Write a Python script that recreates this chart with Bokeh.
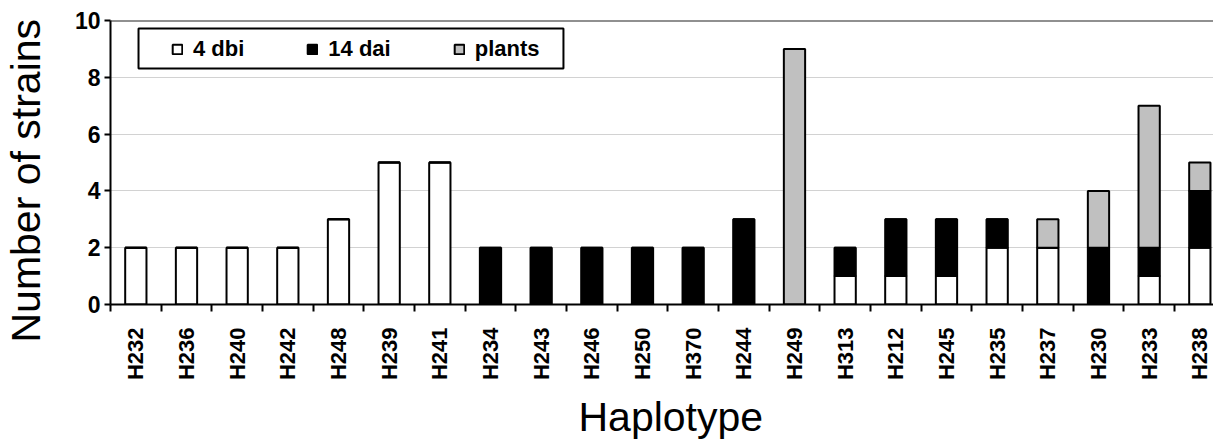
import math
from bokeh.plotting import figure
from bokeh.models import (ColumnDataSource, Range1d, FixedTicker, Legend, LegendItem,
                          BoxAnnotation, Span, Title)
from bokeh.embed import file_html
from bokeh.resources import INLINE

haplotypes = ["H232", "H236", "H240", "H242", "H248", "H239", "H241", "H234", "H243",
              "H246", "H250", "H370", "H244", "H249", "H313", "H212", "H245", "H235",
              "H237", "H230", "H233", "H238"]
dbi4 = [2, 2, 2, 2, 3, 5, 5, 0, 0, 0, 0, 0, 0, 0, 1, 1, 1, 2, 2, 0, 1, 2]
dai14 = [0, 0, 0, 0, 0, 0, 0, 2, 2, 2, 2, 2, 3, 0, 1, 2, 2, 1, 0, 2, 1, 2]
plants = [0, 0, 0, 0, 0, 0, 0, 0, 0, 0, 0, 0, 0, 9, 0, 0, 0, 0, 1, 2, 5, 1]
series_names = ["4 dbi", "14 dai", "plants"]
y_ticks = [0, 2, 4, 6, 8, 10]
x_title = "Haplotype"
y_title = "Number of strains"

n = len(haplotypes)
centers = [i + 0.5 for i in range(n)]
source = ColumnDataSource(dict(x=centers, dbi4=dbi4, dai14=dai14, plants=plants))

FONT = "Liberation Sans"

p = figure(width=1213, height=440, output_backend="svg", toolbar_location=None,
           x_range=Range1d(0, 21.77), y_range=Range1d(0, 10),
           min_border_left=110, min_border_right=0, min_border_top=20,
           min_border_bottom=136)
p.outline_line_color = None
p.background_fill_color = "white"

renderers = p.vbar_stack(["dbi4", "dai14", "plants"], x="x", width=0.42, source=source,
                         fill_color=["white", "black", "#c0c0c0"],
                         line_color="black", line_width=2)

# top border line at y = 10
p.add_layout(Span(location=10, dimension="width", line_color="#222222", line_width=2))

# grid
p.xgrid.grid_line_color = None
p.ygrid.grid_line_color = "#d2d2d2"
p.ygrid.grid_line_width = 1
p.ygrid.ticker = FixedTicker(ticks=y_ticks[1:-1])

# y axis
p.yaxis.ticker = FixedTicker(ticks=y_ticks)
p.yaxis.axis_line_width = 2
p.yaxis.axis_line_color = "black"
p.yaxis.major_tick_line_width = 2
p.yaxis.major_tick_out = 6
p.yaxis.major_tick_in = 0
p.yaxis.minor_tick_line_color = None
p.yaxis.major_label_text_font = FONT
p.yaxis.major_label_text_font_style = "bold"
p.yaxis.major_label_text_font_size = "23px"
p.yaxis.major_label_text_color = "black"
p.yaxis.major_label_standoff = 4

# x axis
p.xaxis.ticker = FixedTicker(ticks=centers, minor_ticks=list(range(n + 1)))
p.xaxis.major_label_overrides = {c: h for c, h in zip(centers, haplotypes)}
p.xaxis.axis_line_width = 2
p.xaxis.axis_line_color = "black"
p.xaxis.major_tick_out = 0
p.xaxis.major_tick_in = 0
p.xaxis.minor_tick_out = 7
p.xaxis.minor_tick_in = 0
p.xaxis.minor_tick_line_width = 2
p.xaxis.minor_tick_line_color = "black"
p.xaxis.major_label_orientation = math.pi / 2
p.xaxis.major_label_text_font = FONT
p.xaxis.major_label_text_font_style = "bold"
p.xaxis.major_label_text_font_size = "22px"
p.xaxis.major_label_text_color = "black"
p.xaxis.major_label_standoff = 16

# spacers between axes and their titles
p.add_layout(Title(text=" ", standoff=0, text_font_size="5px"), "below")
p.add_layout(Title(text=" ", standoff=0, text_font_size="19px"), "left")

# axis titles
p.add_layout(Title(text=x_title, align="left", offset=468, standoff=0,
                   text_font=FONT, text_font_size="41px", text_font_style="normal",
                   text_color="black"), "below")
p.add_layout(Title(text=y_title, align="left", offset=-38, standoff=0,
                   text_font=FONT, text_font_size="41px", text_font_style="normal",
                   text_color="black"), "left")

# legend frame
p.add_layout(BoxAnnotation(left=0.553, right=8.94, bottom=8.31, top=9.72,
                           fill_color="white", fill_alpha=1,
                           line_color="black", line_alpha=1, line_width=2))

legend = Legend(items=[LegendItem(label=nm, renderers=[r]) for nm, r in zip(series_names, renderers)],
                orientation="horizontal", location=(61, 242),
                padding=0, margin=0, spacing=62,
                glyph_width=12, glyph_height=12, label_standoff=10,
                label_text_font=FONT, label_text_font_style="bold",
                label_text_font_size="22px", label_text_color="black",
                border_line_color=None, background_fill_alpha=0)
p.add_layout(legend, "center")

open("out.html", "w").write(file_html(p, INLINE))
